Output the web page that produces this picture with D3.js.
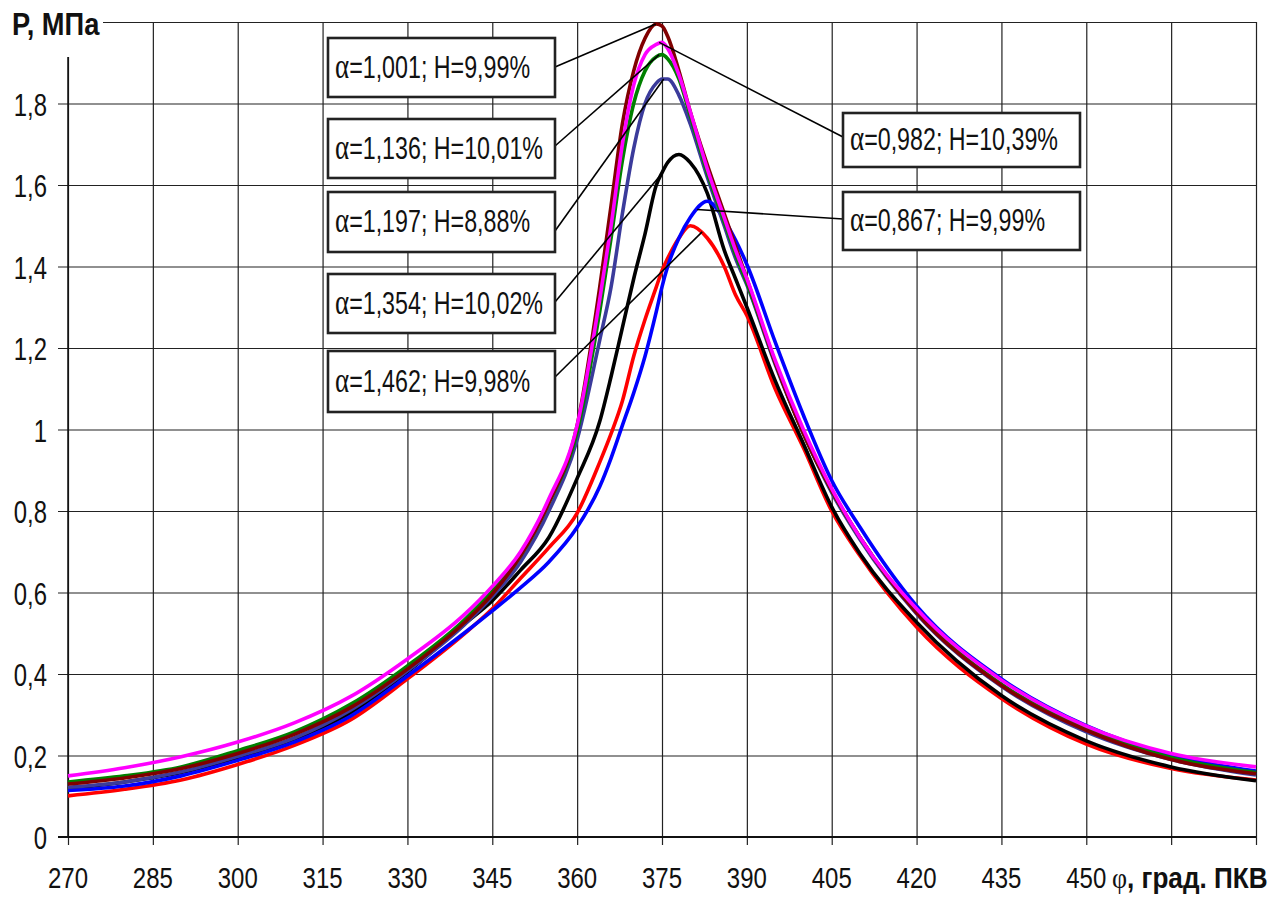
<!DOCTYPE html>
<html><head><meta charset="utf-8">
<script src="https://cdn.jsdelivr.net/npm/d3@7"></script>
<style>body{margin:0;background:#fff} svg{display:block}</style>
</head><body>
<svg id="chart" width="1275" height="897"></svg>
<script>
// ---------- DATA ----------
const phi = [270, 280, 290, 300, 310, 320, 330, 340, 345, 350, 355, 360, 364, 366, 368, 370, 372, 374, 375, 376, 378, 380, 383, 386, 388, 390, 395, 400, 405, 410, 420, 435, 450, 465, 480];

const p_a1001 = [0.130, 0.145, 0.168, 0.205, 0.252, 0.318, 0.412, 0.525, 0.596, 0.690, 0.820, 1.010, 1.350, 1.550, 1.750, 1.880, 1.960, 1.995, 1.990, 1.965, 1.880, 1.780, 1.650, 1.530, 1.450, 1.370, 1.165, 0.990, 0.850, 0.735, 0.550, 0.372, 0.262, 0.190, 0.155];
const p_a0982 = [0.150, 0.170, 0.197, 0.233, 0.280, 0.345, 0.437, 0.545, 0.615, 0.700, 0.830, 1.010, 1.320, 1.500, 1.700, 1.845, 1.920, 1.945, 1.950, 1.935, 1.870, 1.780, 1.640, 1.520, 1.440, 1.370, 1.170, 1.000, 0.855, 0.735, 0.560, 0.385, 0.272, 0.205, 0.172];
const p_a1136 = [0.135, 0.150, 0.172, 0.212, 0.258, 0.326, 0.420, 0.532, 0.603, 0.690, 0.820, 0.995, 1.290, 1.470, 1.660, 1.800, 1.880, 1.915, 1.920, 1.910, 1.860, 1.770, 1.630, 1.510, 1.430, 1.360, 1.165, 0.990, 0.850, 0.735, 0.553, 0.375, 0.265, 0.195, 0.158];
const p_a1197 = [0.122, 0.135, 0.160, 0.198, 0.243, 0.312, 0.408, 0.520, 0.590, 0.675, 0.800, 0.975, 1.220, 1.350, 1.530, 1.690, 1.800, 1.850, 1.860, 1.860, 1.820, 1.750, 1.620, 1.500, 1.420, 1.355, 1.160, 0.990, 0.845, 0.730, 0.548, 0.370, 0.258, 0.190, 0.152];
const p_a1354 = [0.118, 0.135, 0.158, 0.195, 0.240, 0.305, 0.405, 0.522, 0.580, 0.655, 0.735, 0.880, 1.020, 1.130, 1.250, 1.370, 1.480, 1.600, 1.630, 1.655, 1.675, 1.655, 1.580, 1.440, 1.370, 1.300, 1.120, 0.965, 0.810, 0.695, 0.527, 0.347, 0.236, 0.172, 0.138];
const p_a0867 = [0.114, 0.125, 0.150, 0.188, 0.233, 0.297, 0.395, 0.500, 0.555, 0.612, 0.675, 0.760, 0.860, 0.930, 1.010, 1.090, 1.180, 1.290, 1.350, 1.400, 1.470, 1.520, 1.560, 1.515, 1.465, 1.405, 1.215, 1.035, 0.875, 0.760, 0.567, 0.388, 0.273, 0.200, 0.162];
const p_a1462 = [0.101, 0.117, 0.140, 0.178, 0.225, 0.288, 0.388, 0.498, 0.560, 0.635, 0.710, 0.795, 0.920, 0.990, 1.070, 1.180, 1.270, 1.350, 1.390, 1.420, 1.470, 1.500, 1.470, 1.400, 1.330, 1.280, 1.100, 0.955, 0.800, 0.690, 0.515, 0.340, 0.228, 0.168, 0.140];

const xTicks = [270, 285, 300, 315, 330, 345, 360, 375, 390, 405, 420, 435, 450, 465, 480];
const xTickLabels = ["270", "285", "300", "315", "330", "345", "360", "375", "390", "405", "420", "435", "450", "", ""];
const yTicks = [0, 0.2, 0.4, 0.6, 0.8, 1.0, 1.2, 1.4, 1.6, 1.8, 2.0];
const yTickLabels = ["0", "0,2", "0,4", "0,6", "0,8", "1", "1,2", "1,4", "1,6", "1,8", ""];

const labelAlpha = ["1,001", "1,136", "1,197", "1,354", "1,462", "0,982", "0,867"];
const labelH = ["9,99%", "10,01%", "8,88%", "10,02%", "9,98%", "10,39%", "9,99%"];
const anchorPhi = [373.9, 374.5, 375.3, 374.5, 382.1, 374.5, 381.2];
const anchorP = [1.995, 1.92, 1.86, 1.62, 1.485, 1.95, 1.54];

const yTitle = "P, МПа";
const xTitleSym = "φ";
const xTitleRest = ", град. ПКВ";

// ---------- STYLE / LAYOUT ----------
const seriesList = [
  {v: p_a1462, color: "#ff0000"},
  {v: p_a1354, color: "#000000"},
  {v: p_a0867, color: "#0000ff"},
  {v: p_a1197, color: "#3b3b9b"},
  {v: p_a1136, color: "#008000"},
  {v: p_a1001, color: "#800000"},
  {v: p_a0982, color: "#ff00ff"}
];
const boxes = [
  [328, 38, 227, 59], [328, 119, 227, 59], [328, 192, 227, 60], [328, 274, 227, 59], [328, 351, 227, 61],
  [843, 113, 237, 54], [843, 192, 237, 58]
];
const attachY = [67, 146, 231, 302, 377, 137, 219];

const svg = d3.select("#chart");
const L = 68, R = 1256, T = 22, B = 837;
const x = d3.scaleLinear().domain([270, 480]).range([L, R]);
const y = d3.scaleLinear().domain([0, 2]).range([B, T]);
const FONT = "'Liberation Sans', Arial, sans-serif";
const SX = 0.77;

// grid + axes
const gx = svg.append("g").attr("transform", `translate(0,${B})`)
  .call(d3.axisBottom(x).tickValues(xTicks).tickSizeInner(-(B - T)).tickSizeOuter(0).tickFormat(""));
gx.select(".domain").remove();
gx.selectAll("line").attr("stroke", "#222").attr("stroke-width", 1.2).attr("y2", -(B - T)).attr("y1", 8);

const gy = svg.append("g").attr("transform", `translate(${L},0)`)
  .call(d3.axisLeft(y).tickValues(yTicks).tickSizeInner(-(R - L)).tickSizeOuter(0).tickFormat(""));
gy.select(".domain").remove();
gy.selectAll("line").attr("stroke", "#222").attr("stroke-width", 1.2).attr("x1", -10);

svg.append("line").attr("x1", L).attr("x2", L).attr("y1", T).attr("y2", B).attr("stroke", "#111").attr("stroke-width", 1.5);
svg.append("line").attr("x1", L - 10).attr("x2", R).attr("y1", B).attr("y2", B).attr("stroke", "#111").attr("stroke-width", 1.8);

// tick labels
const xl = svg.append("g").attr("font-family", FONT).attr("font-size", 30).attr("fill", "#111");
xTicks.forEach((t, i) => {
  if (!xTickLabels[i]) return;
  xl.append("text").attr("transform", `translate(${x(t)},${888}) scale(0.8,1)`)
    .attr("text-anchor", "middle").text(xTickLabels[i]);
});
const yl = svg.append("g").attr("font-family", FONT).attr("font-size", 31).attr("fill", "#111");
yTicks.forEach((t, i) => {
  if (!yTickLabels[i]) return;
  yl.append("text").attr("transform", `translate(47,${y(t) + 12}) scale(${SX},1)`)
    .attr("text-anchor", "end").text(yTickLabels[i]);
});

// curves
const line = d3.line().x((d, i) => x(phi[i])).y(d => y(d)).curve(d3.curveMonotoneX);
seriesList.forEach(s => {
  svg.append("path").datum(s.v).attr("d", line).attr("fill", "none")
    .attr("stroke", s.color).attr("stroke-width", 3.6).attr("stroke-linejoin", "round");
});

// leader lines
labelAlpha.forEach((a, i) => {
  const b = boxes[i];
  const bx = i < 5 ? b[0] + b[2] : b[0];
  svg.append("line").attr("x1", bx).attr("y1", attachY[i])
    .attr("x2", x(anchorPhi[i])).attr("y2", y(anchorP[i]))
    .attr("stroke", "#000").attr("stroke-width", 1.6);
});

// boxes and texts
labelAlpha.forEach((a, i) => {
  const b = boxes[i];
  svg.append("rect").attr("x", b[0]).attr("y", b[1]).attr("width", b[2]).attr("height", b[3])
    .attr("fill", "#fff").attr("stroke", "#222").attr("stroke-width", 2.6);
  const t = svg.append("text")
    .attr("transform", `translate(${b[0] + 7},${b[1] + b[3] / 2 + 10}) scale(0.75,1)`)
    .attr("font-family", FONT).attr("font-size", 31).attr("fill", "#111");
  t.append("tspan").attr("font-family", "'Liberation Serif', 'DejaVu Serif', serif").attr("font-size", 36).text("α");
  t.append("tspan").text("=" + a + "; H=" + labelH[i]);
});

// axis titles
svg.append("rect").attr("x", 0).attr("y", 0).attr("width", 103).attr("height", 57).attr("fill", "#fff");
svg.append("text").attr("transform", "translate(12,35) scale(0.88,1)")
  .attr("font-family", FONT).attr("font-size", 31).attr("font-weight", "bold").attr("fill", "#111").text(yTitle);
const xt = svg.append("text").attr("transform", "translate(1112,888) scale(0.87,1)")
  .attr("font-family", FONT).attr("font-size", 30).attr("fill", "#111");
xt.append("tspan").attr("font-family", "'Liberation Serif', 'DejaVu Serif', serif").attr("font-size", 30).text(xTitleSym);
xt.append("tspan").attr("font-weight", "bold").text(xTitleRest);
</script>
</body></html>
